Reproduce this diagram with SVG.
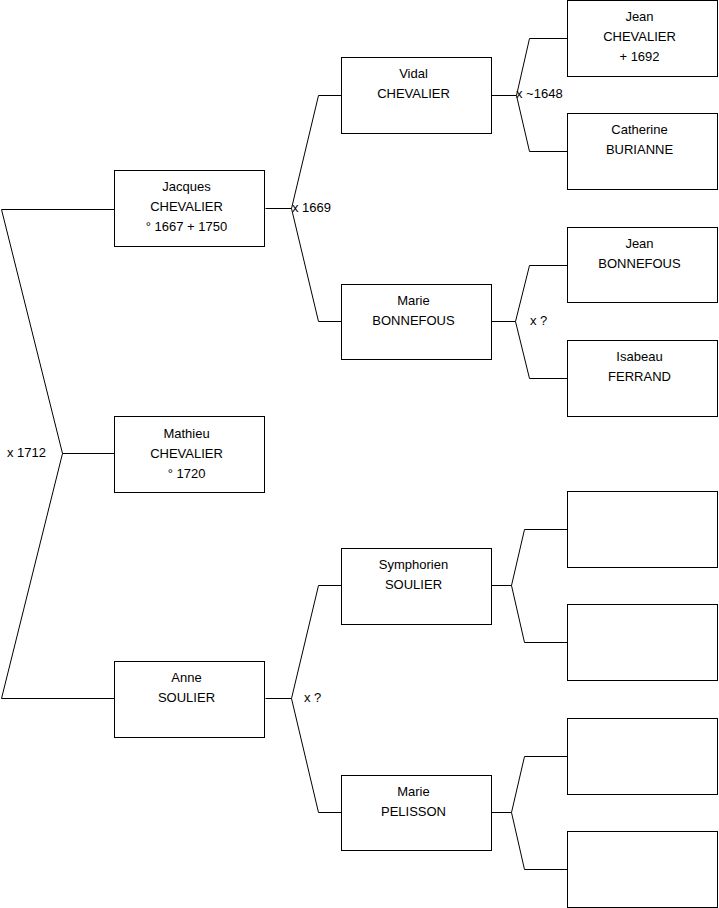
<svg xmlns="http://www.w3.org/2000/svg" width="719" height="908" viewBox="0 0 719 908">
<style>
.b{fill:#fff;stroke:#000;stroke-width:1}
.c{fill:none;stroke:#000;stroke-width:1}
text{font-family:"Liberation Sans",Arial,sans-serif;font-size:13px;fill:#000}
.m{text-anchor:middle}
</style>
<rect width="719" height="908" fill="#fff"/>
<g id="connectors">
<path class="c" d="M114.5,209.5H1.5L62.5,453.5L1.5,698.5H114.5M62.5,453.5H114.5"/>
<path class="c" d="M265.5,208.5H291.5L318.5,95.5H341.5M291.5,208.5L318.5,321.5H341.5"/>
<path class="c" d="M491.5,95.5H516.5L529.5,38.5H567.5M516.5,95.5L529.5,151.5H567.5"/>
<path class="c" d="M491.5,321.5H515.5L529.5,265.5H567.5M515.5,321.5L529.5,378.5H567.5"/>
<path class="c" d="M265.5,698.5H291.5L318.5,585.5H341.5M291.5,698.5L318.5,812.5H341.5"/>
<path class="c" d="M491.5,585.5H511.5L524.5,529.5H567.5M511.5,585.5L524.5,642.5H567.5"/>
<path class="c" d="M491.5,812.5H511.5L524.5,756.5H567.5M511.5,812.5L524.5,869.5H567.5"/>
<text x="7" y="457">x 1712</text>
<text x="292" y="212">x 1669</text>
<text x="516" y="98">x ~1648</text>
<text x="530" y="325">x ?</text>
<text x="304" y="702">x ?</text>
</g>
<g id="jacques"><rect class="b" x="114.5" y="170.5" width="150" height="76"/><text class="m" x="186.5" y="191">Jacques</text><text class="m" x="186.5" y="211">CHEVALIER</text><text class="m" x="186.5" y="231">° 1667 + 1750</text></g>
<g id="mathieu"><rect class="b" x="114.5" y="416.5" width="150" height="76"/><text class="m" x="186.5" y="438">Mathieu</text><text class="m" x="186.5" y="458">CHEVALIER</text><text class="m" x="186.5" y="478">° 1720</text></g>
<g id="anne"><rect class="b" x="114.5" y="661.5" width="150" height="76"/><text class="m" x="186.5" y="682">Anne</text><text class="m" x="186.5" y="702">SOULIER</text></g>
<g id="vidal"><rect class="b" x="341.5" y="57.5" width="150" height="76"/><text class="m" x="413.5" y="78">Vidal</text><text class="m" x="413.5" y="98">CHEVALIER</text></g>
<g id="marieb"><rect class="b" x="341.5" y="284.5" width="150" height="75"/><text class="m" x="413.5" y="305">Marie</text><text class="m" x="413.5" y="325">BONNEFOUS</text></g>
<g id="symphorien"><rect class="b" x="341.5" y="548.5" width="150" height="76"/><text class="m" x="413.5" y="569">Symphorien</text><text class="m" x="413.5" y="589">SOULIER</text></g>
<g id="mariep"><rect class="b" x="341.5" y="775.5" width="150" height="75"/><text class="m" x="413.5" y="796">Marie</text><text class="m" x="413.5" y="816">PELISSON</text></g>
<g id="jean"><rect class="b" x="567.5" y="0.5" width="150" height="76"/><text class="m" x="639.5" y="21">Jean</text><text class="m" x="639.5" y="41">CHEVALIER</text><text class="m" x="639.5" y="61">+ 1692</text></g>
<g id="catherine"><rect class="b" x="567.5" y="113.5" width="150" height="76"/><text class="m" x="639.5" y="134">Catherine</text><text class="m" x="639.5" y="154">BURIANNE</text></g>
<g id="jeanb"><rect class="b" x="567.5" y="227.5" width="150" height="75"/><text class="m" x="639.5" y="248">Jean</text><text class="m" x="639.5" y="268">BONNEFOUS</text></g>
<g id="isabeau"><rect class="b" x="567.5" y="340.5" width="150" height="76"/><text class="m" x="639.5" y="361">Isabeau</text><text class="m" x="639.5" y="381">FERRAND</text></g>
<g id="e1"><rect class="b" x="567.5" y="491.5" width="150" height="76"/></g>
<g id="e2"><rect class="b" x="567.5" y="604.5" width="150" height="76"/></g>
<g id="e3"><rect class="b" x="567.5" y="718.5" width="150" height="76"/></g>
<g id="e4"><rect class="b" x="567.5" y="831.5" width="150" height="76"/></g>
</svg>
